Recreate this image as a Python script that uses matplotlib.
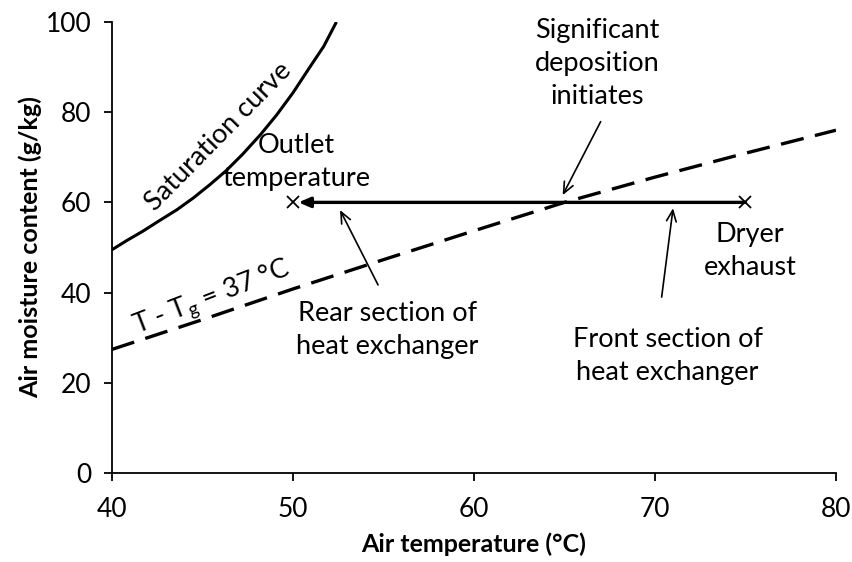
import matplotlib
matplotlib.use("Agg")
import matplotlib.pyplot as plt

plt.rcParams['font.family'] = ['Lato', 'DejaVu Sans']
plt.rcParams['mathtext.default'] = 'regular'

# Data
sat_T = [40.0, 40.8, 41.7, 42.6, 43.6, 44.5, 45.4, 46.3, 47.2, 48.2, 49.1, 50.0, 50.9, 51.7, 52.4]
sat_w = [49.5, 51.5, 53.6, 55.9, 58.4, 61.0, 63.9, 67.0, 70.6, 75.0, 79.4, 84.3, 89.8, 94.6, 100.0]
dep_T = [40, 45, 50, 55, 60, 65, 70, 75, 80]
dep_w = [27.4, 34.0, 40.8, 47.3, 53.7, 60.0, 65.6, 70.9, 76.0]
proc_T = [50, 75]
proc_w = [60, 60]
x_ticks = [40, 50, 60, 70, 80]
y_ticks = [0, 20, 40, 60, 80, 100]

fig = plt.figure(figsize=(8.53, 5.62), dpi=100)
ax = fig.add_axes([0.1313, 0.1584, 0.8487, 0.8025])

ax.plot(sat_T, sat_w, color='black', lw=2.2, solid_capstyle='butt', solid_joinstyle='round')
ax.plot(dep_T, dep_w, color='black', lw=2.4, dashes=(7, 3.5))
ax.plot(proc_T, proc_w, color='black', lw=0, marker='x', ms=8, mew=1.3)
ax.annotate('', xy=(proc_T[0] + 0.3, proc_w[0]), xytext=(proc_T[1], proc_w[1]),
            arrowprops=dict(arrowstyle='-|>,head_length=0.7,head_width=0.3',
                            color='black', lw=2.4, shrinkA=0, shrinkB=0))

ax.set_xlim(40, 80)
ax.set_ylim(0, 100)
ax.set_xticks(x_ticks)
ax.set_yticks(y_ticks)
for s in ['top', 'right']:
    ax.spines[s].set_visible(False)
for s in ['left', 'bottom']:
    ax.spines[s].set_linewidth(1.3)
ax.tick_params(direction='out', length=6, width=1.3, labelsize=19)
ax.tick_params(axis='x', pad=11)
ax.tick_params(axis='y', pad=9)

ax.set_xlabel('Air temperature (°C)', fontsize=18, fontweight='bold', labelpad=8)
ax.set_ylabel('Air moisture content (g/kg)', fontsize=18, fontweight='bold', labelpad=2)

fs = 19.5
ls = 1.4
ax.text(45.9, 74.5, 'Saturation curve', rotation=45.5, ha='center', va='center',
        fontsize=fs, rotation_mode='anchor')
ax.text(45.5, 38.8, 'T - T$_g$ = 37 °C', rotation=21, ha='center', va='center',
        fontsize=fs, rotation_mode='anchor')
ax.text(50.2, 69.0, 'Outlet\ntemperature', ha='center', va='center', fontsize=fs,
        linespacing=ls)
ax.text(66.8, 90.7, 'Significant\ndeposition\ninitiates', ha='center', va='center',
        fontsize=fs, linespacing=ls)
ax.text(75.25, 49.2, 'Dryer\nexhaust', ha='center', va='center', fontsize=fs,
        linespacing=ls)
ax.text(70.7, 25.9, 'Front section of\nheat exchanger', ha='center', va='center',
        fontsize=fs, linespacing=ls)
ax.text(55.2, 31.7, 'Rear section of\nheat exchanger', ha='center', va='center',
        fontsize=fs, linespacing=ls)

arr = dict(arrowstyle='->,head_length=0.8,head_width=0.35', color='black', lw=1.2,
           shrinkA=0, shrinkB=0)
ax.annotate('', xy=(64.9, 61.6), xytext=(67.0, 77.9), arrowprops=arr)
ax.annotate('', xy=(71.0, 58.7), xytext=(70.37, 39.0), arrowprops=arr)
ax.annotate('', xy=(52.6, 58.3), xytext=(54.7, 41.7), arrowprops=arr)

fig.savefig('out.png', dpi=100)
